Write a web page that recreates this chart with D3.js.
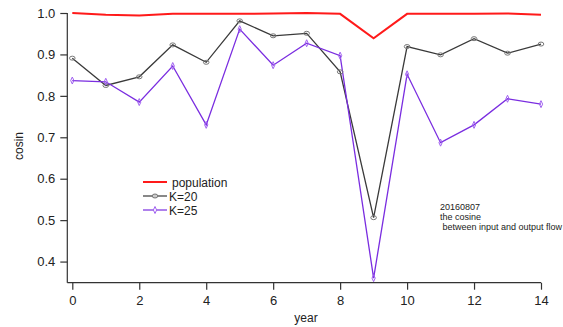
<!DOCTYPE html>
<html><head><meta charset="utf-8">
<script src="https://cdn.jsdelivr.net/npm/d3@7"></script>
<style>body{margin:0;background:#fff}text{font-family:"Liberation Sans","DejaVu Sans",sans-serif}</style>
</head><body>
<svg id="c" width="563" height="327"></svg>
<script>
const years = [0,1,2,3,4,5,6,7,8,9,10,11,12,13,14];
const population = [1.0,0.996,0.994,0.998,0.998,0.998,0.999,1.0,0.998,0.939,0.998,0.998,0.998,0.999,0.996];
const k20 = [0.891,0.825,0.846,0.923,0.881,0.981,0.945,0.951,0.858,0.506,0.919,0.899,0.938,0.903,0.925];
const k25 = [0.837,0.834,0.785,0.872,0.730,0.961,0.874,0.927,0.897,0.360,0.852,0.687,0.730,0.793,0.780];
const xTicks = [0,2,4,6,8,10,12,14];
const yTicks = [0.4,0.5,0.6,0.7,0.8,0.9,1.0];
const seriesNames = ["population","K=20","K=25"];
const annotation = ["20160807","the cosine"," between input and output flow"];

const svg = d3.select("#c");
const x = d3.scaleLinear().domain([0,14]).range([72.3,541]);
const y = d3.scaleLinear().domain([0.349,1.0]).range([282.7,13]);

// axes
const xa = svg.append("g").attr("transform","translate(0,282.7)");
xa.append("line").attr("x1",67.3).attr("x2",541).attr("stroke","#333").attr("stroke-width",1.2);
xa.call(d3.axisBottom(x).tickValues(xTicks).tickFormat(d3.format("d")).tickSize(7).tickPadding(6))
  .call(g=>g.select(".domain").remove())
  .call(g=>g.selectAll("line").attr("stroke","#333").attr("stroke-width",1.2))
  .call(g=>g.selectAll("text").attr("font-size",13).attr("fill","#222"));
const ya = svg.append("g").attr("transform","translate(67.3,0)");
ya.append("line").attr("y1",13).attr("y2",282.7).attr("stroke","#333").attr("stroke-width",1.2);
ya.call(d3.axisLeft(y).tickValues(yTicks).tickFormat(d3.format(".1f")).tickSize(7).tickPadding(5))
  .call(g=>g.select(".domain").remove())
  .call(g=>g.selectAll("line").attr("stroke","#333").attr("stroke-width",1.2))
  .call(g=>g.selectAll("text").attr("font-size",13).attr("fill","#222"));

svg.append("text").attr("transform","translate(23,146) rotate(-90)").attr("text-anchor","middle")
  .attr("font-size",12).attr("fill","#222").text("cosin");
svg.append("text").attr("x",306).attr("y",322).attr("text-anchor","middle")
  .attr("font-size",12).attr("fill","#222").text("year");

const line = d3.line().x((d,i)=>x(years[i])).y(d=>y(d));
const cols = {pop:"#ff1a1a", k20:"#3a3a3a", k25:"#7a2de0"};

svg.append("path").datum(population).attr("d",line).attr("fill","none").attr("stroke",cols.pop).attr("stroke-width",2);
svg.append("path").datum(k20).attr("d",line).attr("fill","none").attr("stroke",cols.k20).attr("stroke-width",1.3);
svg.append("path").datum(k25).attr("d",line).attr("fill","none").attr("stroke",cols.k25).attr("stroke-width",1.3);

const diamond = "M0,-3.5L1.6,0L0,3.5L-1.6,0Z";
svg.selectAll(".m20").data(k20).join("ellipse").attr("cx",(d,i)=>x(years[i])).attr("cy",d=>y(d))
  .attr("rx",2.8).attr("ry",2).attr("fill","none").attr("stroke","#777").attr("stroke-width",1);
svg.selectAll(".m25").data(k25).join("path").attr("d",diamond)
  .attr("transform",(d,i)=>`translate(${x(years[i])},${y(d)})`)
  .attr("fill","none").attr("stroke","#a060f0").attr("stroke-width",1);

// legend
const lg = svg.append("g");
const ly = [182,196,210];
const lc = [cols.pop,cols.k20,cols.k25];
seriesNames.forEach((n,i)=>{
  lg.append("line").attr("x1",143).attr("x2",167).attr("y1",ly[i]).attr("y2",ly[i])
    .attr("stroke",lc[i]).attr("stroke-width",i==0?2:1.2);
  lg.append("text").attr("x",i==0?172:169).attr("y",ly[i]+4.5).attr("font-size",12).attr("fill","#222").text(n);
});
lg.append("ellipse").attr("cx",155).attr("cy",ly[1]).attr("rx",2.8).attr("ry",2).attr("fill","#ccc").attr("stroke","#777");
lg.append("path").attr("d",diamond).attr("transform",`translate(155,${ly[2]})`).attr("fill","#fff").attr("stroke","#a060f0");

annotation.forEach((t,i)=>{
  svg.append("text").attr("x",440).attr("y",210+i*10).attr("font-size",9).attr("fill","#222")
    .attr("xml:space","preserve").style("white-space","pre").text(t);
});
</script>
</body></html>
